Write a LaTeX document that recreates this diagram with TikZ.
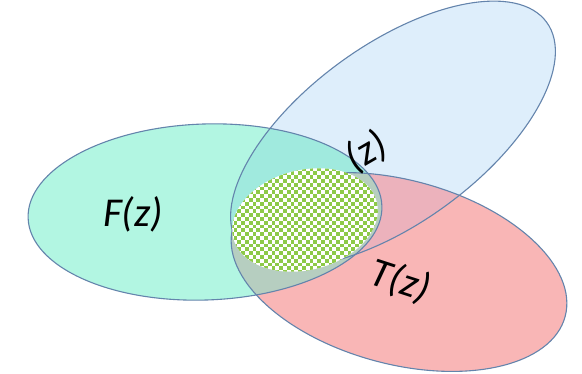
\documentclass[tikz,border=0pt]{standalone}
\usepackage{fontspec}
\setmainfont{Carlito}
\definecolor{gcol}{RGB}{178,246,226}
\definecolor{bcol}{RGB}{222,238,251}
\definecolor{rcol}{RGB}{249,182,182}
\definecolor{gbcol}{RGB}{160,234,222}
\definecolor{rbcol}{RGB}{236,178,188}
\definecolor{grcol}{RGB}{182,206,192}
\definecolor{edgecol}{RGB}{100,132,172}
\definecolor{chkgreen}{RGB}{141,202,72}
\newcommand\ellG[1][]{\path[#1,rotate around={2:(205,-212)}] (205,-212) ellipse [x radius=177,y radius=88];}
\newcommand\ellB[1][]{\path[#1,rotate around={36:(393,-134)}] (393,-134) ellipse [x radius=190,y radius=89];}
\newcommand\ellR[1][]{\path[#1,rotate around={-15:(399,-272)}] (399,-272) ellipse [x radius=172,y radius=92];}
\newcommand\ellC[1][]{\path[#1,rotate around={14:(305,-220)}] (305,-220) ellipse [x radius=74,y radius=50];}
\tikzset{
  outline/.style={draw=edgecol,line width=1.1pt},
  lbl/.style={font=\fontsize{41}{41}\selectfont\itshape,inner sep=0pt,text=black}
}
\begin{document}
\begin{tikzpicture}[x=1pt,y=1pt]
\useasboundingbox (0,-373) rectangle (582,0);
% base fills
\ellB[fill=bcol]
\ellG[fill=gcol]
\ellR[fill=rcol]
% overlaps
\begin{scope}\ellG[clip]\ellB[fill=gbcol]\end{scope}
\begin{scope}\ellR[clip]\ellB[fill=rbcol]\end{scope}
\begin{scope}\ellG[clip]\ellR[fill=grcol]\end{scope}
% outlines
\ellB[outline]
\ellG[outline]
\ellR[outline]
% labels
\node[lbl] (lf) at (133,-214) {F(z)};
\node[lbl,rotate=-18] (lt) at (400,-281) {T(z)};
\node[lbl,rotate=30] (ls) at (366,-152) {(z)};
% checkered ellipse
\ellC[fill=white]
\begin{scope}
\ellC[clip]
\foreach \i in {0,...,40}{
  \foreach \j in {0,...,30}{
    \pgfmathparse{int(mod(\i+\j,2))}
    \ifnum\pgfmathresult=0
      \fill[chkgreen] (226+3.8*\i,-160-3.8*\j) rectangle ++(3.8,-3.8);
    \fi
  }
}
\end{scope}
\end{tikzpicture}
\end{document}
